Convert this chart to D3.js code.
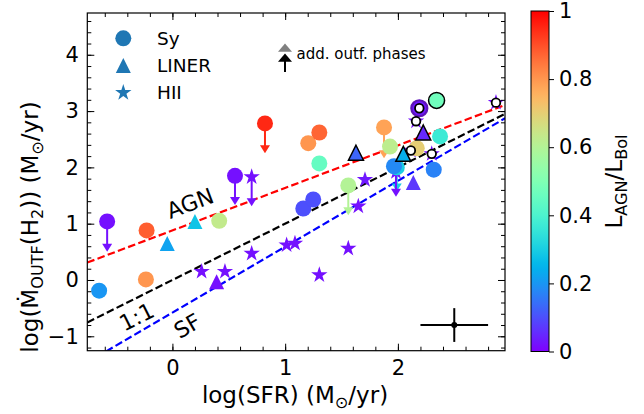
<!DOCTYPE html>
<html>
<head>
<meta charset="utf-8">
<script src="https://cdn.jsdelivr.net/npm/d3@7"></script>
<style>
  html, body { margin: 0; padding: 0; background: #fff; }
  svg { display: block; }
  text { font-family: "DejaVu Sans", sans-serif; fill: #000; }
</style>
</head>
<body>
<svg id="chart" width="644" height="414"></svg>
<script>
// ---- Seyfert galaxies ----
const syLogSFR   = [-0.650, -0.579, -0.229, -0.235, 0.415, 0.555, 0.821, 1.161, 1.249, 1.205, 1.303,
                    1.303, 1.560, 1.877, 1.930, 1.990, 1.965, 2.167, 2.190, 2.343, 2.374, 2.318];
const syLogMdot  = [-0.19, 1.04, 0.88, 0.01, 1.05, 1.85, 2.78, 1.27, 1.43, 2.43, 2.62,
                    2.07, 1.68, 2.71, 2.37, 2.00, 2.02, 2.34, 3.05, 3.19, 2.55, 1.96];
const syAgnFrac  = [0.20, 0.02, 0.88, 0.80, 0.63, 0.02, 0.95, 0.10, 0.10, 0.80, 0.87,
                    0.45, 0.60, 0.78, 0.62, 0.30, 0.18, 0.70, 0.03, 0.47, 0.37, 0.17];
const syArrowTo  = [null, 0.50, null, null, null, 1.33, 2.25, null, null, null, null,
                    null, 1.15, 2.16, null, 1.57, null, null, null, null, null, null];
const syOutlined = [0,0,0,0,0,0,0,0,0,0,0, 0,0,0,0,0,0,0,1,1,0,0];
const syMulti    = [0,0,0,0,0,0,0,0,0,0,0, 0,0,0,0,0,0,0,1,0,0,0];

// ---- LINERs ----
const linLogSFR   = [-0.046, 0.200, 0.392, 1.628, 2.048, 2.137, 2.225];
const linLogMdot  = [0.65, 1.04, -0.03, 2.26, 2.24, 1.73, 2.62];
const linAgnFrac  = [0.22, 0.28, 0.02, 0.13, 0.24, 0.07, 0.05];
const linOutlined = [0, 0, 0, 1, 1, 0, 1];

// ---- HII galaxies ----
const hiiLogSFR  = [0.259, 0.466, 0.703, 0.703, 1.013, 1.087, 1.303, 1.560, 1.649, 1.708,
                    1.983, 2.115, 2.161, 2.300, 2.870];
const hiiLogMdot = [0.15, 0.15, 0.47, 1.83, 0.62, 0.65, 0.09, 0.56, 1.31, 1.78,
                    1.92, 2.30, 2.82, 2.24, 3.15];
const hiiAgnFrac = [0.02, 0.02, 0.02, 0.02, 0.02, 0.02, 0.02, 0.02, 0.02, 0.03,
                    0.02, 0.02, 0.02, 0.02, 0.02];
const hiiArrowTo = [null, null, null, 1.31, null, null, null, null, null, null,
                    1.48, null, null, null, null];
const hiiMulti   = [0,0,0,0,0,0,0,0,0,0, 0,1,1,1,1];

// ---- scaling relations: log Mdot = slope * log SFR + intercept ----
const relNames     = ["AGN", "1:1", "SF"];
const relSlope     = [0.755, 1.0, 1.17];
const relIntercept = [0.88, 0.0, -0.58];

// ---- typical uncertainty ----
const errCentre = [2.5, -0.8];
const errHalf   = [0.3, 0.3];

// ---- ticks ----
const xMajor = [0, 1, 2];
const xMinor = d3.range(-0.6, 2.95, 0.2).map(v => +v.toFixed(2));
const yMajor = [-1, 0, 1, 2, 3, 4];
const yMinor = d3.range(-1.2, 4.75, 0.2).map(v => +v.toFixed(2));
const cbTicks = [0, 0.2, 0.4, 0.6, 0.8, 1];

// ================= drawing =================
const svg = d3.select("#chart");
const box = { left: 87.3, right: 505, top: 13, bottom: 350.7 };
const x = d3.scaleLinear().domain([-0.755, 2.95]).range([box.left, box.right]);
const y = d3.scaleLinear().domain([-1.256, 4.742]).range([box.bottom, box.top]);

// matplotlib-style "rainbow" colormap
const rainbow = t => {
  const r = Math.min(1, Math.abs(2 * t - 0.5));
  const g = Math.sin(Math.PI * t);
  const b = Math.cos(Math.PI * t / 2);
  return d3.rgb(r * 255, g * 255, b * 255).formatHex();
};
const color = d3.scaleSequential(rainbow).domain([0, 1]);

const defs = svg.append("defs");
defs.append("clipPath").attr("id", "plotClip").append("rect")
  .attr("x", box.left).attr("y", box.top)
  .attr("width", box.right - box.left).attr("height", box.bottom - box.top);

// marker shapes
const circlePath = r => d3.symbol(d3.symbolCircle, Math.PI * r * r)();
const trianglePath = s => { const h = s / 2; return `M0,${-h}L${h},${h}L${-h},${h}Z`; };
const starPath = R => {
  const r = R * 0.381966; let p = "";
  for (let k = 0; k < 10; k++) {
    const a = -Math.PI / 2 + k * Math.PI / 5, rr = k % 2 ? r : R;
    p += (k ? "L" : "M") + (rr * Math.cos(a)).toFixed(2) + "," + (rr * Math.sin(a)).toFixed(2);
  }
  return p + "Z";
};
const SHAPES = { circle: circlePath(8), triangle: trianglePath(15), star: starPath(8.6) };

// rich text with subscripts
function rich(sel, parts, fs) {
  const shift = 0.2 * fs; let cur = 0;
  parts.forEach(p => {
    const target = p.sub ? shift : 0;
    const t = sel.append("tspan").text(p.t).attr("dy", target - cur);
    if (p.sub) t.style("font-size", (fs * 0.7) + "px");
    cur = target;
  });
}

// ---- collect points ----
const pts = [];
syLogSFR.forEach((v, i) => pts.push({ shape: "circle", sfr: v, mdot: syLogMdot[i], f: syAgnFrac[i],
  to: syArrowTo[i], outlined: !!syOutlined[i], multi: !!syMulti[i] }));
linLogSFR.forEach((v, i) => pts.push({ shape: "triangle", sfr: v, mdot: linLogMdot[i], f: linAgnFrac[i],
  to: null, outlined: !!linOutlined[i], multi: false }));
hiiLogSFR.forEach((v, i) => pts.push({ shape: "star", sfr: v, mdot: hiiLogMdot[i], f: hiiAgnFrac[i],
  to: hiiArrowTo[i], outlined: false, multi: !!hiiMulti[i] }));

const plot = svg.append("g").attr("clip-path", "url(#plotClip)");

// ---- relations ----
const relColors = ["#ff0000", "#000000", "#0000ff"];
const lineGen = d3.line().x(d => x(d[0])).y(d => y(d[1]));
relSlope.forEach((s, i) => {
  const xs = x.domain();
  plot.append("path")
    .attr("d", lineGen(xs.map(v => [v, s * v + relIntercept[i]])))
    .attr("fill", "none").attr("stroke", relColors[i])
    .attr("stroke-width", 2.2).attr("stroke-dasharray", "7.6,3.3");
});

// ---- downward arrows ----
const arrows = pts.filter(d => d.to !== null && d.to !== undefined);
arrows.forEach(d => {
  const g = plot.append("g").attr("transform", `translate(${x(d.sfr)},0)`);
  const c = color(d.f), y0 = y(d.mdot), y1 = y(d.to);
  g.append("line").attr("x1", 0).attr("x2", 0).attr("y1", y0).attr("y2", y1 - 7)
    .attr("stroke", c).attr("stroke-width", 2);
  g.append("path").attr("d", `M-5,${y1 - 8}L5,${y1 - 8}L0,${y1}Z`).attr("fill", c);
});

// ---- markers: stars, circles, triangles, then outlined ones ----
const order = ["star", "circle", "triangle"];
order.forEach(sh => {
  plot.selectAll(null).data(pts.filter(d => d.shape === sh && !d.outlined)).enter()
    .append("path").attr("d", SHAPES[sh])
    .attr("transform", d => `translate(${x(d.sfr)},${y(d.mdot)})`)
    .attr("fill", d => color(d.f));
});
plot.selectAll(null).data(pts.filter(d => d.outlined)).enter()
  .append("path").attr("d", d => SHAPES[d.shape])
  .attr("transform", d => `translate(${x(d.sfr)},${y(d.mdot)})`)
  .attr("fill", d => color(d.f))
  .attr("stroke", d => d.f < 0.05 && d.shape === "circle" ? "#5d14b8" : "#000")
  .attr("stroke-width", d => d.f < 0.05 && d.shape === "circle" ? 2.2 : 1.5);
plot.selectAll(null).data(pts.filter(d => d.multi)).enter()
  .append("circle").attr("cx", d => x(d.sfr)).attr("cy", d => y(d.mdot)).attr("r", 4.3)
  .attr("fill", "#fff").attr("stroke", "#000").attr("stroke-width", 1.8);

// ---- relation labels ----
const labelAt = [[0.156, 1.365], [-0.318, -0.652], [0.131, -0.812]];
relNames.forEach((n, i) => {
  const ang = -Math.atan(relSlope[i] * (y(0) - y(1)) / (x(1) - x(0))) * 180 / Math.PI;
  svg.append("text").text(n)
    .attr("transform", `translate(${x(labelAt[i][0])},${y(labelAt[i][1])}) rotate(${ang})`)
    .attr("text-anchor", "middle").attr("dy", "0.36em").style("font-size", "22px");
});

// ---- typical error bar ----
const eg = svg.append("g").attr("stroke", "#000").attr("stroke-width", 2);
eg.append("line").attr("x1", x(errCentre[0] - errHalf[0])).attr("x2", x(errCentre[0] + errHalf[0]))
  .attr("y1", y(errCentre[1])).attr("y2", y(errCentre[1]));
eg.append("line").attr("x1", x(errCentre[0])).attr("x2", x(errCentre[0]))
  .attr("y1", y(errCentre[1] - errHalf[1])).attr("y2", y(errCentre[1] + errHalf[1]));
svg.append("circle").attr("cx", x(errCentre[0])).attr("cy", y(errCentre[1])).attr("r", 3).attr("fill", "#000");

// ---- axes (ticks inward on all four sides) ----
function ticks(axis, vals, size, pad, labels) {
  return axis.tickValues(vals).tickSizeInner(-size).tickSizeOuter(0).tickPadding(pad)
    .tickFormat(labels ? d3.format("d") : "");
}
const axG = svg.append("g");
axG.append("g").attr("transform", `translate(0,${box.bottom})`).call(ticks(d3.axisBottom(x), xMinor, 4, 0, false));
axG.append("g").attr("transform", `translate(0,${box.bottom})`).call(ticks(d3.axisBottom(x), xMajor, 7, 9.5, true));
axG.append("g").attr("transform", `translate(0,${box.top})`).call(ticks(d3.axisTop(x), xMinor, 4, 0, false));
axG.append("g").attr("transform", `translate(0,${box.top})`).call(ticks(d3.axisTop(x), xMajor, 7, 0, false));
axG.append("g").attr("transform", `translate(${box.left},0)`).call(ticks(d3.axisLeft(y), yMinor, 4, 0, false));
axG.append("g").attr("transform", `translate(${box.left},0)`).call(ticks(d3.axisLeft(y), yMajor, 7, 8.5, true));
axG.append("g").attr("transform", `translate(${box.right},0)`).call(ticks(d3.axisRight(y), yMinor, 4, 0, false));
axG.append("g").attr("transform", `translate(${box.right},0)`).call(ticks(d3.axisRight(y), yMajor, 7, 0, false));
axG.selectAll(".domain").remove();
axG.selectAll(".tick line").attr("stroke", "#000").attr("stroke-width", 1);
axG.selectAll(".tick text").style("font-size", "21px").attr("font-family", null);
svg.append("rect").attr("x", box.left).attr("y", box.top)
  .attr("width", box.right - box.left).attr("height", box.bottom - box.top)
  .attr("fill", "none").attr("stroke", "#000").attr("stroke-width", 1.2);

// ---- axis labels ----
const xl = svg.append("text").attr("x", 295).attr("y", 403).attr("text-anchor", "middle").style("font-size", "23px");
rich(xl, [{ t: "log(SFR) (M" }, { t: "⊙", sub: true }, { t: "/yr)" }], 23);
const yl = svg.append("text").attr("transform", "translate(38,227) rotate(-90)")
  .attr("text-anchor", "middle").style("font-size", "23px");
rich(yl, [{ t: "log(Ṁ" }, { t: "OUTF", sub: true }, { t: "(H" }, { t: "2", sub: true },
          { t: ")) (M" }, { t: "⊙", sub: true }, { t: "/yr)" }], 23);

// ---- legend ----
const lg = svg.append("g");
[["circle", "Sy"], ["triangle", "LINER"], ["star", "HII"]].forEach((e, i) => {
  const yy = 38.3 + i * 27.2;
  lg.append("path").attr("d", SHAPES[e[0]]).attr("transform", `translate(123.3,${yy})`).attr("fill", "#1f77b4");
  lg.append("text").attr("x", 157).attr("y", yy).attr("dy", "0.36em").style("font-size", "18.5px").text(e[1]);
});
// additional outflow phases key
lg.append("path").attr("d", "M278,51.7L292,51.7L285,43.5Z").attr("fill", "#808080");
lg.append("path").attr("d", "M278,61.7L292,61.7L285,53.5Z").attr("fill", "#000");
lg.append("line").attr("x1", 285).attr("x2", 285).attr("y1", 60).attr("y2", 72).attr("stroke", "#000").attr("stroke-width", 2);
lg.append("text").attr("x", 296.5).attr("y", 54).attr("dy", "0.36em").style("font-size", "15px").text("add. outf. phases");

// ---- colour bar ----
const cb = { x: 531, w: 18, top: 11, bottom: 351.5 };
const grad = defs.append("linearGradient").attr("id", "cbGrad")
  .attr("x1", 0).attr("y1", 1).attr("x2", 0).attr("y2", 0);
d3.range(0, 1.0001, 0.02).forEach(t => grad.append("stop").attr("offset", t).attr("stop-color", color(t)));
svg.append("rect").attr("x", cb.x).attr("y", cb.top).attr("width", cb.w).attr("height", cb.bottom - cb.top)
  .attr("fill", "url(#cbGrad)").attr("stroke", "#000").attr("stroke-width", 1);
const cbScale = d3.scaleLinear().domain([0, 1]).range([cb.bottom, cb.top]);
const cbAx = svg.append("g").attr("transform", `translate(${cb.x + cb.w},0)`)
  .call(d3.axisRight(cbScale).tickValues(cbTicks).tickSizeInner(5).tickSizeOuter(0).tickPadding(5)
    .tickFormat(d => (d === 0 || d === 1) ? d3.format("d")(d) : d3.format(".1f")(d)));
cbAx.select(".domain").remove();
cbAx.selectAll(".tick text").style("font-size", "21px").attr("font-family", null);
const cl = svg.append("text").attr("transform", "translate(622,181.5) rotate(-90)")
  .attr("text-anchor", "middle").style("font-size", "23px");
rich(cl, [{ t: "L" }, { t: "AGN", sub: true }, { t: "/L" }, { t: "Bol", sub: true }], 23);
</script>
</body>
</html>
